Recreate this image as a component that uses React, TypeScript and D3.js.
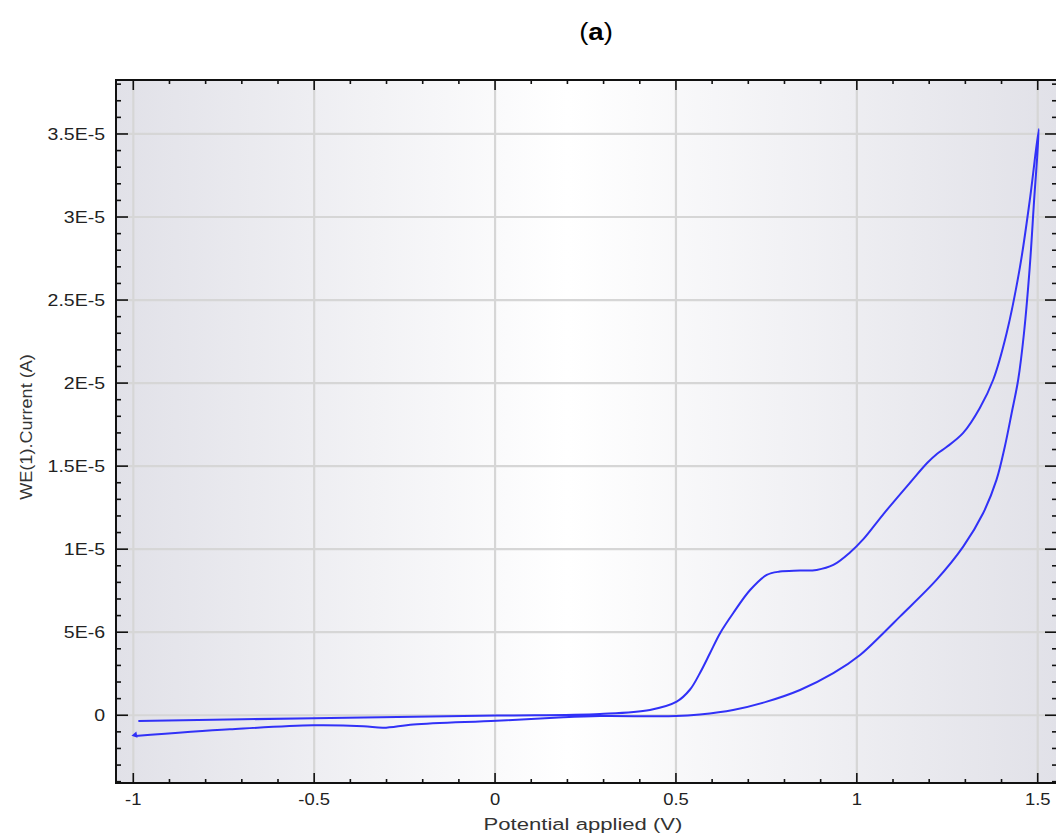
import React from 'react';
import * as d3 from 'd3';

// Axis ticks
const xTicks = [-1, -0.5, 0, 0.5, 1, 1.5];
const xTickLabels = ['-1', '-0.5', '0', '0.5', '1', '1.5'];
const yTicks = [0, 5, 10, 15, 20, 25, 30, 35]; // in µA
const yTickLabels = ['0', '5E-6', '1E-5', '1.5E-5', '2E-5', '2.5E-5', '3E-5', '3.5E-5'];

// Scan A (lower branch, from -1 V up to 1.5 V), current in µA
const scanAV = [-0.995, -0.733, -0.502, -0.364, -0.309, -0.226, 0.004, 0.189, 0.29, 0.5, 0.566, 0.658, 0.751, 0.843, 0.935, 1.009, 1.073, 1.119, 1.22, 1.294, 1.349, 1.386, 1.409, 1.428, 1.446, 1.462, 1.478, 1.49, 1.503];
const scanAI = [-1.25, -0.85, -0.6, -0.66, -0.76, -0.56, -0.33, -0.12, -0.05, -0.05, 0.05, 0.32, 0.82, 1.52, 2.53, 3.63, 4.94, 5.94, 8.15, 10.15, 12.16, 14.17, 16.17, 18.2, 20.2, 23.0, 27.0, 31.0, 35.3];

// Scan B (upper branch, from 1.5 V back to -1 V), current in µA
const scanBV = [1.503, 1.478, 1.451, 1.414, 1.377, 1.34, 1.294, 1.248, 1.222, 1.195, 1.147, 1.073, 1.018, 0.981, 0.935, 0.889, 0.843, 0.787, 0.751, 0.705, 0.658, 0.622, 0.594, 0.566, 0.539, 0.502, 0.428, 0.29, 0.004, -0.502, -0.986];
const scanBI = [35.3, 31.0, 27.0, 23.0, 20.2, 18.5, 17.0, 16.15, 15.75, 15.2, 14.0, 12.1, 10.6, 9.8, 9.05, 8.75, 8.71, 8.65, 8.45, 7.54, 6.14, 4.94, 3.73, 2.53, 1.55, 0.82, 0.32, 0.08, -0.02, -0.18, -0.34];

const W = 1056;
const H = 835;
const L = 116, R = 1057, T = 80, B = 783;
const FONT = '"Liberation Sans", Arial, sans-serif';

const STxt = ({ x, y, sx = 1, anchor = 'middle', size = 16, weight = 'normal', rotate = 0, dy = '0', fill = '#222', children }: any) => (
  <g transform={`translate(${x},${y}) rotate(${rotate}) scale(${sx},1)`}>
    <text textAnchor={anchor} fontSize={size} fontWeight={weight} style={{ fontFamily: FONT }} dy={dy} fill={fill}>
      {children}
    </text>
  </g>
);

export default function App() {
  const x = d3.scaleLinear().domain([-1.0478, 1.5533]).range([L, R]);
  const y = d3.scaleLinear().domain([-4.08, 38.25]).range([B, T]);

  const pts = (vs: number[], is: number[]) => vs.map((v, i) => [v, is[i]] as [number, number]);
  const all = [...pts(scanAV, scanAI), ...pts(scanBV, scanBI).slice(1)];
  const line = d3.line<[number, number]>().x(d => x(d[0])).y(d => y(d[1])).curve(d3.curveCatmullRom.alpha(0.5));

  const xMinor = d3.range(-10, 16).map(k => k / 10).filter(v => Math.abs(v * 2 - Math.round(v * 2)) > 1e-6);
  const yMinor = d3.range(-4, 39).filter(v => v % 5 !== 0);

  const start = all[0];
  const tri = d3.symbol().type(d3.symbolTriangle).size(18)();

  return (
    <svg width={W} height={H} style={{ position: 'absolute', left: 0, top: 0, background: '#fff' }}>
      <defs>
        <linearGradient id="bg" x1="0" x2="1" y1="0" y2="0">
          <stop offset="0" stopColor="#e1e1e8" />
          <stop offset="0.48" stopColor="#ffffff" />
          <stop offset="1" stopColor="#e1e1e8" />
        </linearGradient>
        <clipPath id="clip">
          <rect x={L} y={T} width={R - L} height={B - T} />
        </clipPath>
      </defs>
      <rect x={L} y={T} width={R - L} height={B - T} fill="url(#bg)" />
      {/* grid */}
      {xTicks.map(v => (
        <line key={'gx' + v} x1={x(v)} x2={x(v)} y1={T} y2={B} stroke="#d6d6d6" strokeWidth={2.2} />
      ))}
      {yTicks.map(v => (
        <line key={'gy' + v} x1={L} x2={R} y1={y(v)} y2={y(v)} stroke="#d6d6d6" strokeWidth={2.2} />
      ))}
      {/* curve */}
      <g clipPath="url(#clip)">
        <path d={line(all) || ''} fill="none" stroke="#3131f7" strokeWidth={2} strokeLinejoin="round" />
        <path d={tri || ''} transform={`translate(${x(start[0])},${y(start[1]) - 1}) rotate(-100)`} fill="#3131f7" />
      </g>
      {/* axes frame */}
      <line x1={L} x2={L} y1={T - 1} y2={B + 1} stroke="#111" strokeWidth={2} />
      <line x1={L - 1} x2={R} y1={B} y2={B} stroke="#111" strokeWidth={2} />
      <line x1={L - 1} x2={R} y1={T} y2={T} stroke="#111" strokeWidth={2} />
      <line x1={R} x2={R} y1={T} y2={B} stroke="#111" strokeWidth={2} />
      {/* x ticks bottom & top */}
      {xTicks.map(v => (
        <g key={'xt' + v}>
          <line x1={x(v)} x2={x(v)} y1={B} y2={B - 10} stroke="#111" strokeWidth={1.6} />
          <line x1={x(v)} x2={x(v)} y1={T} y2={T + 10} stroke="#111" strokeWidth={1.6} />
        </g>
      ))}
      {xMinor.map(v => (
        <g key={'xm' + v}>
          <line x1={x(v)} x2={x(v)} y1={B} y2={B - 4} stroke="#111" strokeWidth={1.6} />
          <line x1={x(v)} x2={x(v)} y1={T} y2={T + 4} stroke="#111" strokeWidth={1.6} />
        </g>
      ))}
      {/* y ticks left & right */}
      {yTicks.map(v => (
        <g key={'yt' + v}>
          <line x1={L} x2={L + 12} y1={y(v)} y2={y(v)} stroke="#111" strokeWidth={1.6} />
          <line x1={R} x2={R - 12} y1={y(v)} y2={y(v)} stroke="#111" strokeWidth={1.6} />
        </g>
      ))}
      {yMinor.map(v => (
        <g key={'ym' + v}>
          <line x1={L} x2={L + 5} y1={y(v)} y2={y(v)} stroke="#111" strokeWidth={1.6} />
          <line x1={R} x2={R - 5} y1={y(v)} y2={y(v)} stroke="#111" strokeWidth={1.6} />
        </g>
      ))}
      {/* tick labels */}
      {xTicks.map((v, i) => (
        <STxt key={'xl' + v} x={x(v)} y={805} sx={1.15} size={16}>{xTickLabels[i]}</STxt>
      ))}
      {yTicks.map((v, i) => (
        <STxt key={'yl' + v} x={105} y={y(v)} sx={1.22} anchor="end" size={16} dy="0.35em">{yTickLabels[i]}</STxt>
      ))}
      {/* axis titles */}
      <STxt x={583} y={830} sx={1.3} size={17} fill="#333">Potential applied (V)</STxt>
      <STxt x={32} y={427} sx={1.13} size={16} rotate={-90} fill="#333">WE(1).Current (A)</STxt>
      {/* title */}
      <g transform="translate(596,40) scale(1.15,1)">
        <text textAnchor="middle" fontSize={24} style={{ fontFamily: FONT }} fill="#000">
          (<tspan fontWeight="bold" style={{ fontFamily: FONT }}>a</tspan>)
        </text>
      </g>
    </svg>
  );
}
